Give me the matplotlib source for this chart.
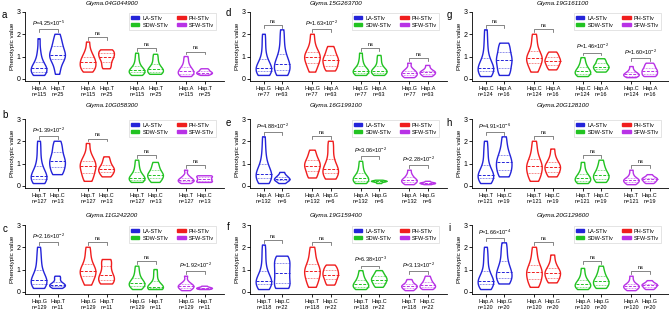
import numpy as np
import matplotlib.pyplot as plt
from matplotlib.patches import Patch

plt.rcParams["font.family"] = "Liberation Sans"
plt.rcParams["mathtext.fontset"] = "custom"
plt.rcParams["mathtext.rm"] = "Liberation Sans"
plt.rcParams["mathtext.it"] = "Liberation Sans:italic"

traits = ["LA-STIv", "PH-STIv", "SDW-STIv", "SFW-STIv"]
colors = ["#2424d9", "#f01e1e", "#22c322", "#b832e6"]

letters = ["a", "b", "c", "d", "e", "f", "g", "h", "i"]
genes = ["Glyma.04G044900", "Glyma.10G058300", "Glyma.11G242200",
         "Glyma.15G263700", "Glyma.16G199100", "Glyma.19G159400",
         "Glyma.19G161100", "Glyma.20G128100", "Glyma.20G129600"]
haps = [("A", "T"), ("T", "C"), ("G", "T"), ("G", "A"), ("A", "G"),
        ("T", "C"), ("C", "A"), ("T", "C"), ("A", "G")]
counts = [(115, 25), (127, 13), (129, 11), (77, 63), (132, 6),
          (118, 22), (124, 16), (121, 19), (120, 20)]
# P value per trait (None = ns)
pvals = [
    [4.25e-5, None, None, None],
    [1.39e-2, None, None, None],
    [2.16e-2, None, None, 1.92e-2],
    [None, 1.63e-2, None, None],
    [4.88e-2, None, 3.06e-2, 2.28e-2],
    [None, None, 6.38e-3, 3.13e-2],
    [None, None, 1.46e-2, 1.60e-2],
    [4.91e-6, None, None, None],
    [1.66e-4, None, None, None],
]

# phenotype values, order: LA hap1, LA hap2, PH hap1, PH hap2, SDW ..., SFW ...
vals_a = [
    [0.15, 0.2, 0.25, 0.3, 0.35, 0.4, 0.45, 0.5, 0.55, 0.65, 0.8, 1.0, 1.3, 1.8],
    [0.2, 0.45, 0.7, 0.85, 0.95, 1.0, 1.05, 1.1, 1.2, 1.35, 1.5, 1.6, 1.8, 2.0],
    [0.3, 0.4, 0.45, 0.5, 0.6, 0.7, 0.75, 0.8, 0.9, 1.0, 1.1, 1.3, 1.65],
    [0.45, 0.55, 0.7, 0.85, 0.95, 1.0, 1.1, 1.2, 1.25, 1.3],
    [0.15, 0.2, 0.25, 0.3, 0.3, 0.35, 0.4, 0.45, 0.55, 0.7, 0.9, 1.15],
    [0.2, 0.25, 0.3, 0.35, 0.4, 0.45, 0.55, 0.7, 0.9, 1.1],
    [0.1, 0.15, 0.2, 0.25, 0.3, 0.35, 0.4, 0.5, 0.6, 0.8, 1.0],
    [0.15, 0.2, 0.22, 0.25, 0.28, 0.3, 0.35, 0.4, 0.45],
]
vals_b = [
    [0.1, 0.2, 0.25, 0.3, 0.35, 0.4, 0.45, 0.55, 0.7, 0.9, 1.2, 1.6, 2.0],
    [0.5, 0.6, 0.75, 0.9, 1.05, 1.1, 1.2, 1.4, 1.6, 1.8, 2.0],
    [0.2, 0.35, 0.5, 0.65, 0.8, 0.9, 0.95, 1.05, 1.2, 1.4, 1.9],
    [0.4, 0.5, 0.6, 0.7, 0.75, 0.8, 0.95, 1.1, 1.3],
    [0.15, 0.2, 0.25, 0.3, 0.35, 0.35, 0.45, 0.55, 0.7, 0.9, 1.15],
    [0.15, 0.25, 0.35, 0.45, 0.5, 0.55, 0.7, 0.85, 1.05],
    [0.1, 0.15, 0.2, 0.22, 0.25, 0.3, 0.35, 0.45, 0.7],
    [0.15, 0.18, 0.2, 0.3, 0.3, 0.4, 0.42, 0.45],
]
vals_c = [
    [0.15, 0.25, 0.3, 0.35, 0.45, 0.5, 0.55, 0.65, 0.8, 1.0, 1.3, 1.6, 2.0],
    [0.15, 0.2, 0.25, 0.3, 0.3, 0.35, 0.45, 0.6, 0.7],
    [0.3, 0.45, 0.6, 0.75, 0.85, 0.9, 0.95, 1.05, 1.2, 1.4, 1.7, 2.0],
    [0.35, 0.4, 0.5, 0.6, 0.7, 0.8, 1.0, 1.2, 1.4, 1.45],
    [0.1, 0.2, 0.25, 0.3, 0.35, 0.4, 0.45, 0.55, 0.7, 0.9, 1.15],
    [0.1, 0.12, 0.15, 0.2, 0.2, 0.25, 0.35, 0.5, 0.75, 1.0],
    [0.05, 0.1, 0.15, 0.2, 0.25, 0.25, 0.3, 0.35, 0.45, 0.7],
    [0.1, 0.12, 0.15, 0.15, 0.18, 0.2, 0.25],
]
vals_d = [
    [0.15, 0.2, 0.3, 0.35, 0.4, 0.45, 0.5, 0.6, 0.7, 0.9, 1.2, 1.6, 2.0],
    [0.15, 0.2, 0.3, 0.4, 0.5, 0.6, 0.65, 0.75, 0.9, 1.1, 1.4, 1.8, 2.2],
    [0.3, 0.5, 0.65, 0.8, 0.9, 1.0, 1.05, 1.15, 1.3, 1.6, 2.0],
    [0.35, 0.45, 0.55, 0.7, 0.8, 0.85, 0.95, 1.1, 1.25, 1.45],
    [0.15, 0.2, 0.25, 0.3, 0.35, 0.35, 0.4, 0.5, 0.65, 0.85, 1.15],
    [0.15, 0.2, 0.25, 0.3, 0.35, 0.35, 0.4, 0.5, 0.65, 0.85, 1.05],
    [0.05, 0.1, 0.15, 0.2, 0.25, 0.3, 0.35, 0.45, 0.7],
    [0.1, 0.15, 0.2, 0.25, 0.3, 0.3, 0.35, 0.45, 0.6],
]
vals_e = [
    [0.1, 0.2, 0.3, 0.35, 0.45, 0.5, 0.55, 0.65, 0.8, 1.0, 1.3, 1.7, 2.2],
    [0.1, 0.2, 0.25, 0.3, 0.3, 0.4, 0.45, 0.6],
    [0.35, 0.45, 0.6, 0.75, 0.85, 0.9, 1.0, 1.1, 1.2, 1.4, 1.6],
    [0.3, 0.4, 0.55, 0.65, 0.7, 0.8, 1.0, 1.3, 1.7, 2.0],
    [0.1, 0.15, 0.2, 0.25, 0.3, 0.35, 0.4, 0.5, 0.65, 0.85, 1.1],
    [0.1, 0.15, 0.18, 0.2, 0.2, 0.22, 0.25],
    [0.05, 0.1, 0.15, 0.2, 0.25, 0.25, 0.3, 0.4, 0.5, 0.7],
    [0.05, 0.08, 0.1, 0.12, 0.12, 0.15, 0.2],
]
vals_f = [
    [0.1, 0.2, 0.3, 0.35, 0.4, 0.45, 0.5, 0.6, 0.75, 0.95, 1.3, 1.7, 2.1],
    [0.15, 0.2, 0.3, 0.5, 0.7, 0.85, 1.0, 1.2, 1.35, 1.5, 1.6],
    [0.2, 0.35, 0.5, 0.65, 0.8, 0.9, 0.95, 1.05, 1.2, 1.4, 1.7, 2.0],
    [0.3, 0.4, 0.55, 0.65, 0.75, 0.8, 0.9, 1.0, 1.1, 1.2],
    [0.1, 0.15, 0.2, 0.25, 0.3, 0.35, 0.4, 0.5, 0.6, 0.75, 0.95],
    [0.2, 0.3, 0.4, 0.5, 0.55, 0.6, 0.7, 0.8, 0.95],
    [0.05, 0.1, 0.15, 0.2, 0.25, 0.25, 0.3, 0.35, 0.45, 0.55],
    [0.1, 0.15, 0.2, 0.25, 0.3, 0.35, 0.45, 0.55, 0.7],
]
vals_g = [
    [0.1, 0.2, 0.3, 0.35, 0.4, 0.45, 0.5, 0.6, 0.75, 0.95, 1.3, 1.7, 2.2],
    [0.15, 0.25, 0.4, 0.6, 0.75, 0.85, 0.95, 1.1, 1.3, 1.5, 1.6],
    [0.3, 0.45, 0.6, 0.75, 0.85, 0.9, 0.95, 1.05, 1.2, 1.4, 1.7, 2.0],
    [0.4, 0.5, 0.6, 0.7, 0.8, 0.8, 0.9, 1.0, 1.1, 1.2],
    [0.1, 0.15, 0.2, 0.25, 0.3, 0.35, 0.4, 0.5, 0.6, 0.75, 0.95],
    [0.3, 0.35, 0.45, 0.5, 0.55, 0.6, 0.7, 0.8, 0.9],
    [0.05, 0.1, 0.12, 0.15, 0.2, 0.2, 0.25, 0.3, 0.4, 0.55],
    [0.1, 0.15, 0.2, 0.3, 0.35, 0.4, 0.5, 0.6, 0.7],
]
vals_h = [
    [0.1, 0.2, 0.3, 0.35, 0.4, 0.45, 0.5, 0.6, 0.75, 0.95, 1.3, 1.6, 2.0],
    [0.4, 0.5, 0.65, 0.8, 0.95, 1.05, 1.15, 1.3, 1.5, 1.8, 2.2],
    [0.2, 0.35, 0.45, 0.6, 0.75, 0.85, 0.9, 1.0, 1.15, 1.35, 1.65, 2.0],
    [0.4, 0.5, 0.6, 0.75, 0.85, 0.85, 0.95, 1.1, 1.3, 1.65],
    [0.1, 0.15, 0.2, 0.25, 0.3, 0.35, 0.4, 0.5, 0.6, 0.8, 1.05],
    [0.15, 0.2, 0.3, 0.4, 0.45, 0.5, 0.6, 0.75, 0.9, 1.15],
    [0.05, 0.1, 0.15, 0.2, 0.25, 0.25, 0.3, 0.35, 0.5, 0.7],
    [0.1, 0.15, 0.2, 0.25, 0.3, 0.3, 0.35, 0.4, 0.5],
]
vals_i = [
    [0.1, 0.2, 0.3, 0.35, 0.4, 0.45, 0.5, 0.6, 0.75, 0.95, 1.3, 1.6, 2.0],
    [0.35, 0.45, 0.55, 0.65, 0.75, 0.85, 0.95, 1.1, 1.3, 1.6, 1.9, 2.2],
    [0.2, 0.35, 0.45, 0.6, 0.75, 0.85, 0.9, 1.0, 1.15, 1.35, 1.65, 2.0],
    [0.4, 0.5, 0.6, 0.75, 0.85, 0.85, 0.95, 1.1, 1.3, 1.65],
    [0.1, 0.15, 0.2, 0.25, 0.3, 0.35, 0.4, 0.5, 0.6, 0.8, 1.05],
    [0.15, 0.2, 0.3, 0.4, 0.45, 0.5, 0.6, 0.75, 0.9, 1.15],
    [0.05, 0.1, 0.15, 0.2, 0.25, 0.25, 0.3, 0.35, 0.5, 0.7],
    [0.1, 0.15, 0.2, 0.25, 0.3, 0.3, 0.35, 0.4, 0.5],
]
all_vals = [vals_a, vals_b, vals_c, vals_d, vals_e, vals_f, vals_g, vals_h, vals_i]

positions = [0, 1, 2.65, 3.65, 5.3, 6.3, 7.95, 8.95]

W, H = 669, 312
fig = plt.figure(figsize=(W / 100, H / 100), dpi=100)

col_left = [25, 250, 472]
col_width = [199, 197, 197]
row_top = [12, 119, 225]
ax_h = 69
title_x = [112, 336, 563]
title_y = [4, 106, 216]
letter_xy = [[(4, 15), (5, 115), (5, 229)],
             [(228, 13), (228, 123), (228, 227)],
             [(449, 15), (449, 123), (449, 228)]]


def half_width(body, pos, y):
    v = body.get_paths()[0].vertices
    right = v[v[:, 0] >= pos]
    order = np.argsort(right[:, 1])
    return np.interp(y, right[order, 1], right[order, 0]) - pos


for k in range(9):
    col, row = k // 3, k % 3
    ax = fig.add_axes([col_left[col] / W, 1 - (row_top[row] + ax_h) / H,
                       col_width[col] / W, ax_h / H])
    data = all_vals[k]
    cols = [colors[i // 2] for i in range(8)]
    parts = ax.violinplot(data, positions=positions, widths=0.85,
                          showextrema=False, bw_method=0.5)
    for body, c, pos, d in zip(parts["bodies"], cols, positions, data):
        body.set_alpha(1)
        body.set_facecolor("none")
        body.set_edgecolor(c)
        body.set_linewidth(1.0)
        q1, med, q3 = np.percentile(d, [25, 50, 75])
        hw = half_width(body, pos, med)
        ax.plot([pos - hw, pos + hw], [med, med], color=c, lw=0.7,
                ls=(0, (3, 1.5)))
        for q in (q1, q3):
            hw = half_width(body, pos, q)
            ax.plot([pos - hw, pos + hw], [q, q], color=c, lw=0.5,
                    ls=(0, (1, 1.2)))

    # significance brackets
    for g in range(4):
        x1, x2 = positions[2 * g], positions[2 * g + 1]
        yb = max(max(data[2 * g]), max(data[2 * g + 1])) + 0.22
        ax.plot([x1, x1, x2, x2], [yb - 0.12, yb, yb, yb - 0.12],
                color="#555555", lw=0.5)
        p = pvals[k][g]
        if p is None:
            lab = "ns"
        else:
            m, e = f"{p:.2e}".split("e")
            lab = r"$\it{P}$=" + m + "×10$^{" + str(int(e)) + "}$"
        ax.text((x1 + x2) / 2, yb + 0.06, lab, ha="center", va="bottom",
                fontsize=4)

    h1, h2 = haps[k]
    n1, n2 = counts[k]
    ax.set_xticks(positions)
    ax.set_xticklabels([f"Hap.{h1}\nn={n1}", f"Hap.{h2}\nn={n2}"] * 4,
                       fontsize=4, linespacing=1.3)
    ax.set_xlim(-0.76, 10.0)
    ax.set_ylim(-0.1, 3.0)
    ax.set_yticks([0, 1, 2, 3])
    ax.tick_params(axis="y", labelsize=5, length=2, width=0.6, pad=1)
    ax.tick_params(axis="x", length=2, width=0.6, pad=1.5)
    ax.set_ylabel("Phenotypic value", fontsize=4.5, labelpad=1)
    for s in ("top", "right"):
        ax.spines[s].set_visible(False)
    for s in ("left", "bottom"):
        ax.spines[s].set_linewidth(0.6)

    # legend fills column by column, so order gives rows LA/PH then SDW/SFW
    order = [0, 2, 1, 3]
    handles = [Patch(facecolor=colors[i], edgecolor=colors[i]) for i in order]
    leg = ax.legend(handles, [traits[i] for i in order], ncol=2, fontsize=4,
                    loc="upper right", bbox_to_anchor=(0.975, 1.02),
                    frameon=True, fancybox=False, edgecolor="#d0d0d0",
                    framealpha=1, handlelength=1.5, handleheight=0.45,
                    labelspacing=0.35, columnspacing=1.6, borderpad=0.4,
                    handletextpad=0.6)
    leg.get_frame().set_linewidth(0.4)

    fig.text(title_x[col] / W, 1 - title_y[row] / H, genes[k], ha="center",
             va="center", fontsize=4.5, style="italic")
    lx, ly = letter_xy[col][row]
    fig.text(lx / W, 1 - ly / H, letters[k], ha="center", va="center",
             fontsize=7)

fig.savefig("out.png", dpi=100)
